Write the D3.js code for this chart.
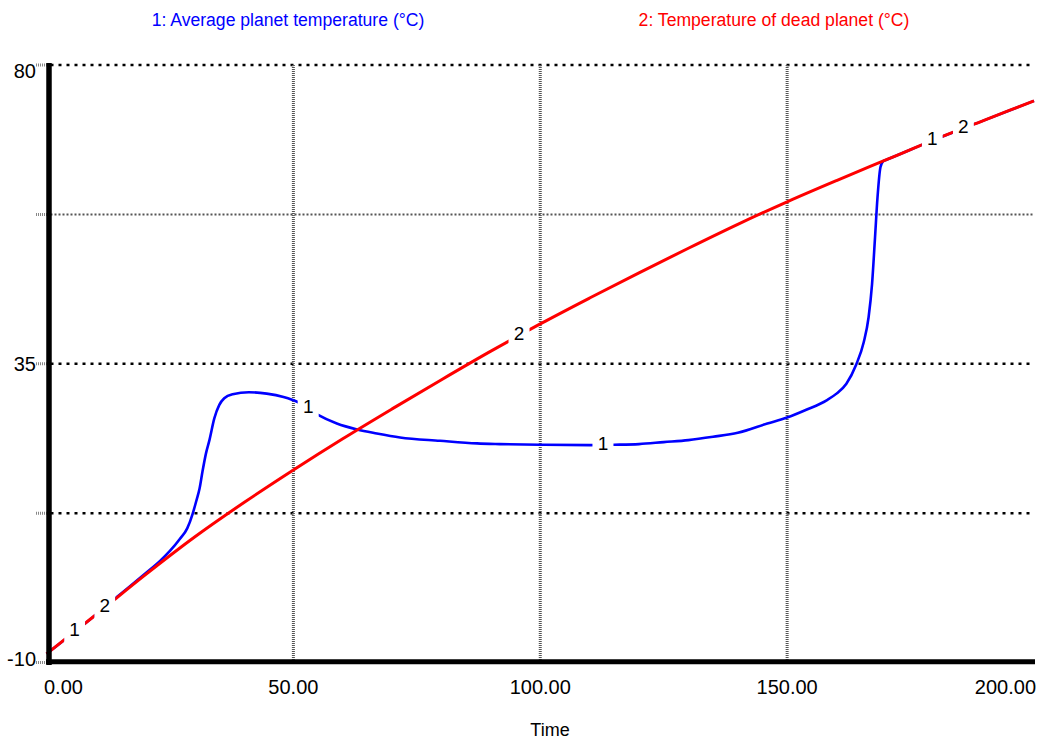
<!DOCTYPE html>
<html><head><meta charset="utf-8">
<script src="https://cdn.jsdelivr.net/npm/d3@7/dist/d3.min.js"></script>
<style>body{margin:0;background:#fff;} text{font-family:"Liberation Sans",Arial,sans-serif;}</style>
</head><body><svg id="c" width="1041" height="743"></svg>
<script>
// ---- data ----
const seriesNames = ["1: Average planet temperature (°C)", "2: Temperature of dead planet (°C)"];
const seriesColors = ["#0000ff", "#ff0000"];
const deadT = [0,10,20,30,40,50,60,70,80,90,100,110,120,130,140,150,160,170,180,190,200];
const deadV = [-8.7,-2.8,3.2,8.9,14.1,19.0,23.7,28.2,32.6,36.9,41.0,44.9,48.7,52.4,56.0,59.4,62.6,65.7,68.8,71.7,74.6];
const avgT = [0,10,15,20,23,25,27,28.5,29.6,30.4,31,31.6,32.3,33,34,35,36,37.7,41,44.6,48,51,54.7,58.8,62.9,66.9,71.6,79.7,87.2,91.8,100,110,115,120,125,130,135,140,146,150,154,158,160,162,164,165.5,166.5,167.2,167.8,168.3,168.9,169.5,170,180,190,200];
const avgV = [-8.7,-2.8,0.3,3.4,5.3,6.8,8.6,10.2,12.4,14.5,16.2,18.8,21.5,23.5,26.8,28.8,29.8,30.4,30.7,30.5,30.0,29.2,27.4,26.0,25.1,24.5,23.9,23.4,23.0,22.9,22.8,22.75,22.8,22.9,23.2,23.5,24.0,24.6,26.0,26.9,28.1,29.5,30.5,32.0,34.9,38.2,42,47,54,60,64.6,65.55,65.7,68.8,71.7,74.6];
const xTicks = [0,50,100,150,200];
const xTickLabels = ["0.00","50.00","100.00","150.00","200.00"];
const yTicks = [80,57.5,35,12.5,-10];
const yTickLabels = ["80","","35","","-10"];
const labelSeries = [0,1,0,1,0,0,1];
const labelText = ["1","2","1","2","1","1","2"];
const labelT = [5.7,11.8,53,95.7,112.7,179.4,185.7];
const labelGapSeries = [[0,1],[0,1],[0],[1],[0],[0,1],[0,1]];

// ---- layout ----
const svg = d3.select("#c");
const x = d3.scaleLinear().domain([0,200]).range([46.5,1034]);
const y = d3.scaleLinear().domain([-10,80]).range([662.5,65]);

// grid
const hGrid = [80,57.5,35,12.5];
hGrid.forEach(v=>{
  const major = (v!==57.5);
  svg.append("line").attr("x1",x(0)+4).attr("x2",x(200)).attr("y1",y(v)).attr("y2",y(v))
    .attr("stroke", major?"#000":"#555").attr("stroke-width", major?2.5:2)
    .attr("stroke-dasharray", major?"3,5":"2,2");
});
[50,100,150].forEach(v=>{
  svg.append("line").attr("x1",x(v)).attr("x2",x(v)).attr("y1",y(80)).attr("y2",y(-10))
    .attr("stroke","#555").attr("stroke-width",3).attr("stroke-dasharray","1,1");
});
// left ticks
const yLabelShift = [5.5,0,0.5,0,-4];
yTicks.forEach((v,i)=>{
  svg.append("line").attr("x1",36).attr("x2",47).attr("y1",y(v)).attr("y2",y(v))
    .attr("stroke","#888").attr("stroke-width",3).attr("stroke-dasharray","1,1");
  if (yTickLabels[i]) svg.append("text").attr("x",36).attr("y",y(v)+yLabelShift[i]).attr("dy","0.35em")
    .attr("text-anchor","end").attr("font-size",20).text(yTickLabels[i]);
});
// x tick labels
xTicks.forEach((v,i)=>{
  const anchor = i===0?"start":(i===xTicks.length-1?"end":"middle");
  const xx = i===0?44:(i===xTicks.length-1?1036:x(v));
  svg.append("text").attr("x",xx).attr("y",694).attr("text-anchor",anchor)
    .attr("font-size",20).text(xTickLabels[i]);
});
svg.append("text").attr("x",550).attr("y",736).attr("text-anchor","middle").attr("font-size",18).text("Time");

// titles
svg.append("text").attr("x",288).attr("y",26).attr("text-anchor","middle").attr("font-size",17.6)
  .attr("fill",seriesColors[0]).text(seriesNames[0]);
svg.append("text").attr("x",774).attr("y",26).attr("text-anchor","middle").attr("font-size",17.6)
  .attr("fill",seriesColors[1]).text(seriesNames[1]);

// series
const series = [avgT.map((t,i)=>({t,v:avgV[i]})), deadT.map((t,i)=>({t,v:deadV[i]}))];
function valAt(s,t){ const d=series[s]; for(let i=1;i<d.length;i++){ if(d[i].t>=t){ const a=d[i-1],b=d[i]; return a.v+(b.v-a.v)*(t-a.t)/(b.t-a.t);} } return d[d.length-1].v; }
const defs = svg.append("defs");
[0,1].forEach(s=>{
  const m = defs.append("mask").attr("id","m"+s).attr("maskUnits","userSpaceOnUse")
    .attr("x",0).attr("y",0).attr("width",1041).attr("height",743);
  m.append("rect").attr("x",0).attr("y",0).attr("width",1041).attr("height",743).attr("fill","#fff");
  labelT.forEach((t,i)=>{
    if (labelGapSeries[i].includes(s)) {
      const cx=x(t), cy=y(valAt(labelSeries[i],t));
      m.append("rect").attr("x",cx-10.5).attr("y",cy-16).attr("width",21).attr("height",32).attr("fill","#000");
    }
  });
});
const line = d3.line().x(d=>x(d.t)).y(d=>y(d.v)).curve(d3.curveMonotoneX);
[0,1].forEach(s=>{
  svg.append("path").datum(series[s]).attr("d",line).attr("fill","none")
    .attr("stroke",seriesColors[s]).attr("stroke-width",s===1?3:2.6).attr("mask","url(#m"+s+")");
});
// series labels
labelT.forEach((t,i)=>{
  svg.append("text").attr("x",x(t)).attr("y",y(valAt(labelSeries[i],t))-2).attr("dy","0.35em")
    .attr("text-anchor","middle").attr("font-size",19).text(labelText[i]);
});

// axes
svg.append("line").attr("x1",49).attr("x2",49).attr("y1",63).attr("y2",665).attr("stroke","#000").attr("stroke-width",5.5);
svg.append("line").attr("x1",46).attr("x2",1035).attr("y1",661.8).attr("y2",661.8).attr("stroke","#000").attr("stroke-width",5);
</script></body></html>
